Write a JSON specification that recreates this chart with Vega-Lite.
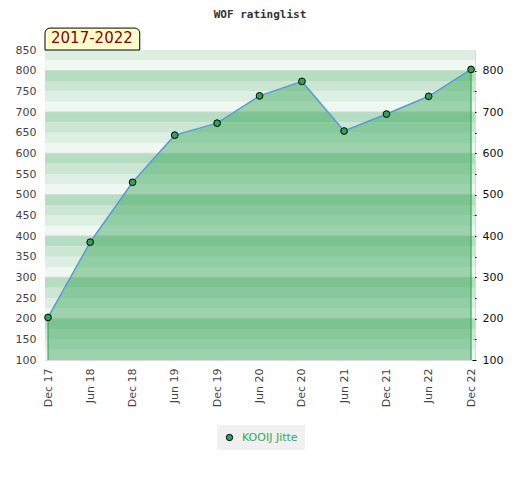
{
  "$schema": "https://vega.github.io/schema/vega-lite/v6.json",
  "width": 430,
  "height": 310,
  "autosize": "none",
  "padding": {"left": 45, "top": 50, "right": 45, "bottom": 120},
  "background": "#ffffff",
  "title": {"text": "WOF ratinglist", "font": "DejaVu Sans Mono", "fontSize": 11, "fontWeight": "bold", "color": "#333333", "anchor": "middle", "offset": 8},
  "config": {"view": {"stroke": "#d9d9d9"}},
  "datasets": {
    "ratings": [
      {"date": "2017-12-01", "rating": 203, "player": "KOOIJ Jitte"},
      {"date": "2018-06-01", "rating": 385, "player": "KOOIJ Jitte"},
      {"date": "2018-12-01", "rating": 530, "player": "KOOIJ Jitte"},
      {"date": "2019-06-01", "rating": 644, "player": "KOOIJ Jitte"},
      {"date": "2019-12-01", "rating": 673, "player": "KOOIJ Jitte"},
      {"date": "2020-06-01", "rating": 739, "player": "KOOIJ Jitte"},
      {"date": "2020-12-01", "rating": 774, "player": "KOOIJ Jitte"},
      {"date": "2021-06-01", "rating": 654, "player": "KOOIJ Jitte"},
      {"date": "2021-12-01", "rating": 695, "player": "KOOIJ Jitte"},
      {"date": "2022-06-01", "rating": 738, "player": "KOOIJ Jitte"},
      {"date": "2022-12-01", "rating": 803, "player": "KOOIJ Jitte"}
    ],
    "stripes": [
      {"lo": 100, "hi": 125, "band": "a"}, {"lo": 125, "hi": 150, "band": "b"}, {"lo": 150, "hi": 175, "band": "c"}, {"lo": 175, "hi": 200, "band": "d"},
      {"lo": 200, "hi": 225, "band": "a"}, {"lo": 225, "hi": 250, "band": "b"}, {"lo": 250, "hi": 275, "band": "c"}, {"lo": 275, "hi": 300, "band": "d"},
      {"lo": 300, "hi": 325, "band": "a"}, {"lo": 325, "hi": 350, "band": "b"}, {"lo": 350, "hi": 375, "band": "c"}, {"lo": 375, "hi": 400, "band": "d"},
      {"lo": 400, "hi": 425, "band": "a"}, {"lo": 425, "hi": 450, "band": "b"}, {"lo": 450, "hi": 475, "band": "c"}, {"lo": 475, "hi": 500, "band": "d"},
      {"lo": 500, "hi": 525, "band": "a"}, {"lo": 525, "hi": 550, "band": "b"}, {"lo": 550, "hi": 575, "band": "c"}, {"lo": 575, "hi": 600, "band": "d"},
      {"lo": 600, "hi": 625, "band": "a"}, {"lo": 625, "hi": 650, "band": "b"}, {"lo": 650, "hi": 675, "band": "c"}, {"lo": 675, "hi": 700, "band": "d"},
      {"lo": 700, "hi": 725, "band": "a"}, {"lo": 725, "hi": 750, "band": "b"}, {"lo": 750, "hi": 775, "band": "c"}, {"lo": 775, "hi": 800, "band": "d"},
      {"lo": 800, "hi": 825, "band": "a"}, {"lo": 825, "hi": 850, "band": "b"}
    ],
    "grid": [{"v": 200}, {"v": 300}, {"v": 400}, {"v": 500}, {"v": 600}, {"v": 700}, {"v": 800}],
    "period": [{"start": "2017-11-18", "end": "2019-01-01", "lo": 850, "hi": 903, "label": "2017-2022", "at": "2017-12-01"}]
  },
  "resolve": {"axis": {"y": "independent"}, "scale": {"fill": "independent"}, "legend": {"fill": "independent"}},
  "layer": [
    {
      "data": {"name": "stripes"},
      "mark": {"type": "rect"},
      "encoding": {
        "y": {"field": "lo", "type": "quantitative", "scale": {"domain": [100, 850], "nice": false, "zero": false},
              "axis": {"values": [100,150,200,250,300,350,400,450,500,550,600,650,700,750,800,850], "ticks": false, "domain": false, "grid": false, "labelColor": "#444444", "labelFont": "DejaVu Sans", "labelFontSize": 11, "labelPadding": 9, "title": null}},
        "y2": {"field": "hi"},
        "fill": {"field": "band", "type": "nominal", "scale": {"domain": ["a","b","c","d"], "range": ["#eff7f1", "#dcefe2", "#cbe7d4", "#b4ddc1"]}, "legend": null}
      }
    },
    {
      "data": {"name": "grid"},
      "mark": {"type": "rule", "color": "#d4d4d4", "strokeWidth": 1},
      "encoding": {"y": {"field": "v", "type": "quantitative", "axis": null}}
    },
    {
      "data": {"name": "ratings"},
      "mark": {"type": "area", "color": "#31a554", "opacity": 0.44},
      "encoding": {
        "x": {"field": "date", "type": "temporal", "scale": {"domain": [{"year": 2017, "month": 11, "date": 18}, {"year": 2022, "month": 12, "date": 18}]},
              "axis": {"values": [{"year": 2017, "month": 12, "date": 1}, {"year": 2018, "month": 6, "date": 1}, {"year": 2018, "month": 12, "date": 1}, {"year": 2019, "month": 6, "date": 1}, {"year": 2019, "month": 12, "date": 1}, {"year": 2020, "month": 6, "date": 1}, {"year": 2020, "month": 12, "date": 1}, {"year": 2021, "month": 6, "date": 1}, {"year": 2021, "month": 12, "date": 1}, {"year": 2022, "month": 6, "date": 1}, {"year": 2022, "month": 12, "date": 1}],
                       "format": "%b %y", "labelAngle": -90, "labelAlign": "right", "labelBaseline": "middle", "ticks": false, "domain": false, "grid": false, "labelColor": "#444444", "labelFont": "DejaVu Sans", "labelFontSize": 11, "labelPadding": 8, "title": null, "labelOverlap": false}},
        "y": {"field": "rating", "type": "quantitative", "axis": null},
        "y2": {"datum": 100}
      }
    },
    {
      "data": {"name": "ratings"},
      "transform": [{"filter": "year(datum.date) == 2017 || (year(datum.date) == 2022 && month(datum.date) == 11)"}],
      "mark": {"type": "rule", "color": "#2e9e4f", "strokeWidth": 1},
      "encoding": {
        "x": {"field": "date", "type": "temporal"},
        "y": {"field": "rating", "type": "quantitative", "axis": null},
        "y2": {"datum": 100}
      }
    },
    {
      "data": {"name": "ratings"},
      "mark": {"type": "line", "color": "#5b9bd5", "strokeWidth": 1.5},
      "encoding": {
        "x": {"field": "date", "type": "temporal"},
        "y": {"field": "rating", "type": "quantitative", "axis": null}
      }
    },
    {
      "data": {"name": "ratings"},
      "mark": {"type": "point", "filled": true, "shape": "circle", "size": 45, "stroke": "#000000", "strokeWidth": 1, "opacity": 1},
      "encoding": {
        "x": {"field": "date", "type": "temporal"},
        "y": {"field": "rating", "type": "quantitative",
              "axis": {"orient": "right", "offset": -3, "values": [100,150,200,250,300,350,400,450,500,550,600,650,700,750,800], "labelExpr": "datum.value % 100 == 0 ? datum.label : ''", "domain": false, "grid": false, "ticks": true, "tickSize": 4, "tickColor": "#000000", "labelColor": "#111111", "labelFont": "DejaVu Sans", "labelFontSize": 11, "labelPadding": 6, "title": null}},
        "fill": {"field": "player", "type": "nominal", "scale": {"domain": ["KOOIJ Jitte"], "range": ["#35a05a"]},
                 "legend": {"orient": "none", "legendX": 172, "legendY": 375, "title": null, "fillColor": "#f0f0f0", "padding": 7, "labelColor": "#3aa660", "labelFont": "DejaVu Sans", "labelFontSize": 11, "labelOffset": 7, "symbolType": "circle", "symbolSize": 40, "symbolStrokeColor": "#000000", "symbolStrokeWidth": 1}}
      }
    },
    {
      "data": {"name": "period"},
      "mark": {"type": "rect", "fill": "#ffffcc", "stroke": "#000000", "strokeWidth": 1, "cornerRadiusTopLeft": 5, "cornerRadiusTopRight": 5},
      "encoding": {
        "x": {"field": "start", "type": "temporal"},
        "x2": {"field": "end"},
        "y": {"field": "lo", "type": "quantitative", "axis": null},
        "y2": {"field": "hi"}
      }
    },
    {
      "data": {"name": "period"},
      "mark": {"type": "text", "align": "left", "baseline": "bottom", "dx": 3, "dy": -4, "font": "DejaVu Sans", "fontSize": 15, "color": "#8b0000"},
      "encoding": {
        "x": {"field": "at", "type": "temporal"},
        "y": {"field": "lo", "type": "quantitative", "axis": null},
        "text": {"field": "label"}
      }
    }
  ]
}
